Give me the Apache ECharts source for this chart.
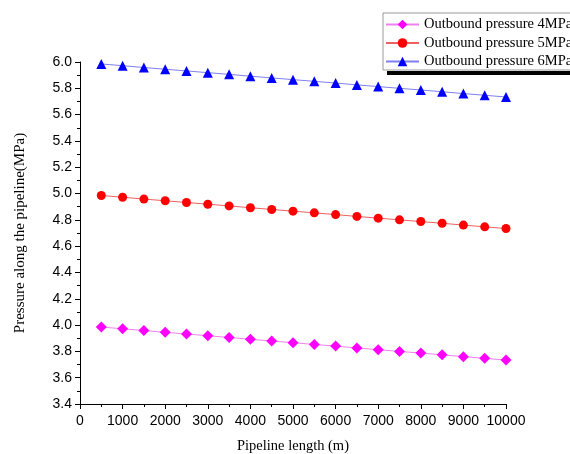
<!DOCTYPE html>
<html><head><meta charset="utf-8">
<script src="https://cdn.jsdelivr.net/npm/echarts@6/dist/echarts.min.js"></script>
<style>html,body{margin:0;padding:0;background:#fff}#c{width:570px;height:454px}</style>
</head><body><div id="c"></div>
<script>
const lengths = [500,1000,1500,2000,2500,3000,3500,4000,4500,5000,5500,6000,6500,7000,7500,8000,8500,9000,9500,10000];
const p4 = [3.985,3.972,3.958,3.945,3.932,3.919,3.906,3.892,3.879,3.866,3.853,3.840,3.826,3.813,3.800,3.787,3.774,3.760,3.747,3.734];
const p5 = [4.985,4.972,4.958,4.945,4.932,4.919,4.906,4.892,4.879,4.866,4.853,4.840,4.826,4.813,4.800,4.787,4.774,4.760,4.747,4.734];
const p6 = [5.985,5.972,5.958,5.945,5.932,5.919,5.906,5.892,5.879,5.866,5.853,5.840,5.826,5.813,5.800,5.787,5.774,5.760,5.747,5.734];
const names = ['Outbound pressure 4MPa','Outbound pressure 5MPa','Outbound pressure 6MPa'];

const chart = echarts.init(document.getElementById('c'));
const pair = arr => lengths.map((x,i)=>[x,arr[i]]);
const axisCommon = {
  axisLine:{show:true,lineStyle:{color:'#000',width:1}},
  axisTick:{show:true,inside:false,length:5,lineStyle:{color:'#000'}},
  minorTick:{show:true,splitNumber:2,length:3,lineStyle:{color:'#000'}},
  splitLine:{show:false}
};
chart.setOption({
  animation:false,
  backgroundColor:'#fff',
  grid:{left:80,right:64,top:62,bottom:50,containLabel:false,outerBoundsMode:'none'},
  legend:{
    left:383, top:13, orient:'vertical',
    itemWidth:33, itemHeight:12, itemGap:3.5,
    padding:[4,20,1,2],
    borderColor:'#999', borderWidth:1,
    textStyle:{fontFamily:'Liberation Serif',fontSize:14.5,color:'#000'},
    data:names
  },
  graphic:[{type:'rect',shape:{x:387,y:71,width:183,height:4},style:{fill:'#000'}}],
  xAxis:Object.assign({type:'value',min:0,max:10000,interval:1000,
    name:'Pipeline length (m)',nameLocation:'middle',nameGap:35,
    nameTextStyle:{fontFamily:'Liberation Serif',fontSize:14.5,color:'#000'}},axisCommon,
    {axisLabel:{color:'#000',fontFamily:'Liberation Sans',fontSize:14,margin:10,formatter:v=>String(v)}}),
  yAxis:Object.assign({type:'value',min:3.4,max:6.0,interval:0.2,
    name:'Pressure along the pipeline(MPa)',nameLocation:'middle',nameGap:52,
    nameTextStyle:{fontFamily:'Liberation Serif',fontSize:15,color:'#000'}},axisCommon,
    {axisLabel:{color:'#000',fontFamily:'Liberation Sans',fontSize:14,margin:8,formatter:v=>v.toFixed(1)}}),
  series:[
    {name:names[0],type:'line',data:pair(p4),symbol:'diamond',symbolSize:11,
     itemStyle:{color:'#ff00ff'},lineStyle:{color:'#f080f0',width:1}},
    {name:names[1],type:'line',data:pair(p5),symbol:'circle',symbolSize:9,
     itemStyle:{color:'#ff0000'},lineStyle:{color:'#f06060',width:1}},
    {name:names[2],type:'line',data:pair(p6),symbol:'triangle',symbolSize:10,
     itemStyle:{color:'#0000ff'},lineStyle:{color:'#8080f0',width:1}}
  ]
});
</script></body></html>
